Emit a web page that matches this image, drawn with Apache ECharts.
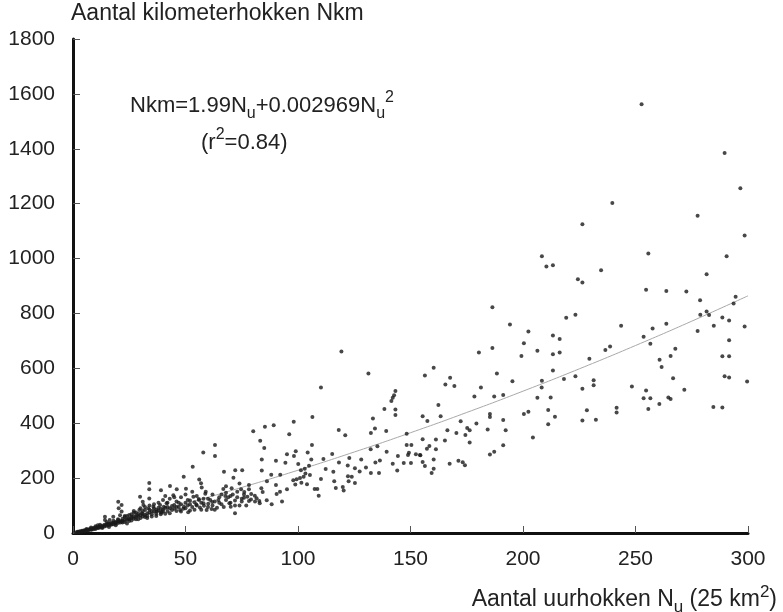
<!DOCTYPE html>
<html>
<head>
<meta charset="utf-8">
<script src="https://cdn.jsdelivr.net/npm/echarts@6/dist/echarts.min.js"></script>
<style>html,body{margin:0;padding:0;background:#fff;}#chart{width:783px;height:612px;}</style>
</head>
<body>
<div id="chart"></div>
<script>
// x ticks / y ticks
const xTicks = [0, 50, 100, 150, 200, 250, 300];
const yTicks = [0, 200, 400, 600, 800, 1000, 1200, 1400, 1600, 1800];

// Scatter points [Nu, Nkm]
const pointsHigh = [[252.7,1562],[289.6,1385],[296.6,1256],[239.7,1202],[277.6,1156],[298.5,1084],[255.7,1018],[290.5,1008],[234.7,957],[281.6,943],[254.7,886],[263.7,882],[272.6,880],[278.7,848],[294.5,861],[293.6,836],[278.8,795],[281.6,807],[282.7,794],[288.6,785],[291.6,774],[277.6,736],[284.8,755],[298.5,752],[243.6,755],[257.6,745],[263.7,762],[253.6,715],[256.6,690],[236.6,667],[238.7,680],[291.6,702],[267.7,671],[265.6,645],[260.7,631],[261.6,605],[288.6,644],[291.6,644],[266.7,564],[289.6,571],[291.6,567],[299.6,552],[248.4,534],[254.7,519],[253.6,491],[256.6,491],[264.6,494],[265.6,488],[271.7,522],[260.6,470],[255.7,452],[284.6,459],[288.6,457],[241.6,456],[241.6,439]];

const pointsUpperMid = [[226.4,1125],[208.4,1008],[210.4,971],[213.3,976],[224.4,925],[226.4,913],[186.4,823],[219.2,784],[223.3,795],[194.2,760],[202.4,734],[213.3,720],[216.3,707],[200.4,691],[186.4,674],[180.4,658],[199.3,645],[206.4,664],[213.3,651],[216.3,658],[229.5,635],[160.3,602],[156.4,574],[167.6,566],[165.5,541],[169.5,536],[181.3,530],[188.4,581],[195.3,553],[213.3,592],[208.4,555],[208.3,530],[218.2,561],[223.3,571],[231.4,557],[231.4,538],[226.4,526],[178.4,497],[187.2,497],[191.2,503],[206.4,493],[212.3,494],[162.4,466],[155.4,425],[163.4,425],[157.5,408],[172.3,407],[179.3,399],[185.3,434],[185.3,423],[191.2,412],[200.4,434],[202.4,442],[211.2,448],[214.2,424],[211.2,396],[226.4,410],[228.4,447],[232.4,413],[166.4,374],[175.2,383],[176.3,374],[184.3,377],[192.3,374],[170.4,364],[174.4,357],[176.3,330],[155.4,342],[161.3,341],[165.3,337],[158.4,317],[157.3,307],[161.3,305],[154.2,284],[160.3,268],[155.4,259],[156.4,244],[160.3,234],[159.4,219],[167.4,252],[171.3,263],[173.2,258],[174.2,247],[185.3,286],[187.2,296],[191.2,320],[204.4,348]];

const pointsMid = [[119.3,661],[131.3,581],[110.2,530],[143.3,517],[142.7,502],[142.1,493],[141.5,481],[138.4,452],[143.3,450],[143.3,430],[133.3,417],[106.4,423],[98.1,405],[89.2,393],[85.3,387],[80.1,371],[96.1,360],[118.1,375],[121.0,356],[132.4,364],[134.2,381],[139.2,372],[83.2,336],[85.0,310],[83.9,268],[83.9,228],[75.2,229],[106.2,321],[90.2,263],[94.4,256],[95.1,287],[98.2,281],[99.0,298],[104.3,293],[100.1,251],[103.0,234],[104.9,245],[105.9,268],[111.3,270],[115.2,288],[118.2,257],[122.1,246],[122.8,273],[125.3,236],[128.1,268],[130.2,239],[132.3,305],[135.3,316],[134.4,257],[136.4,264],[139.4,296],[142.1,252],[144.1,228],[144.4,281],[148.3,362],[148.3,321],[150.4,321],[149.3,292],[148.9,284],[152.4,287],[154.4,283],[147,255],[150.2,255],[78.2,175],[78.2,159],[83.7,163],[84.3,149],[86.2,189],[88.1,212],[92.1,212],[90.2,175],[86.1,119],[88.3,105],[90.5,142],[92.0,150],[92.9,115],[95.1,159],[97.9,192],[98.8,177],[99.4,196],[100.9,200],[101.5,183],[102.5,205],[103.3,217],[101.3,229],[104,178],[105.3,211],[107.4,160],[108.6,160],[109.2,136],[110.2,197],[112.3,233],[115.7,223],[116.1,189],[116.8,164],[119.9,168],[120.3,155],[122.5,189],[122.2,207],[123.9,205],[125.3,182],[127.4,224],[132.4,219],[136,219],[76.1,149],[74.7,159],[77.5,132],[79.1,122],[80.8,136],[81.6,127],[80.9,115],[78.2,117],[82.8,117],[83,108],[79.2,142]];

const pointsLow = [[63.1,321],[63.1,281],[57.9,293],[53.2,241],[49.2,205],[67.1,223],[72.1,229],[71.3,201],[56.1,195],[33.9,182],[33.9,159],[39.1,156],[43.1,171],[46.1,159],[50.2,161],[41,135],[44.6,138],[56.9,181],[57.2,166],[58.8,143],[55.9,124],[53.5,132],[54.8,104],[56.4,93],[58.2,99],[59.4,84],[61.6,87],[60.1,107],[61.9,113],[66.8,160],[68,147],[70.5,163],[67.7,135],[64.6,120],[69.5,108],[70.1,96],[73,130],[72,72],[49.3,96],[51.2,76],[47.6,84],[45,102],[43.1,90],[41.6,108],[40.4,96],[38.7,102],[37.2,78],[39.4,75],[35.7,96],[33.5,90],[32,84],[30.5,72],[31.3,102],[29.5,84],[28.3,65],[27.1,74],[26.1,59],[24.6,53],[23.1,47],[21.6,41],[20.1,47],[18.7,37],[17.2,33],[15.7,35],[14.2,27],[12.7,23],[11.3,19],[9.8,17],[8.3,13],[6.8,11],[5.3,8],[3.9,5],[2.4,4],[20.1,114],[21.6,102],[20.3,90],[21.6,78],[20.9,65],[14.2,59],[14.2,47],[16.3,47],[17.9,59],[29.8,132],[31,114],[33.9,126]];

const pointsDense = [[1,2],[2,3],[2,5],[3,6],[3,4],[4,8],[4,6],[5,10],[5,7],[6,12],[6,9],[7,14],[7,11],[8,16],[8,12],[9,18],[9,14],[10,20],[10,15],[11,22],[11,18],[12,25],[12,20],[13,26],[13,22],[14,30],[14,24],[15,32],[15,26],[16,34],[16,28],[17,36],[17,30],[18,38],[18,32],[19,40],[19,34],[20,42],[20,36],[21,44],[21,38],[22,45],[22,52],[23,40],[23,58],[24,48],[24,62],[25,50],[25,44],[26,55],[26,68],[27,52],[27,60],[28,58],[28,75],[29,62],[29,50],[30,65],[30,55],[31,70],[31,80],[32,66],[32,58],[33,72],[33,62],[34,75],[34,85],[35,68],[35,80],[36,78],[36,90],[37,70],[37,85],[38,82],[38,92],[39,75],[39,88],[40,85],[40,78],[41,92],[42,80],[42,95],[43,72],[44,98],[45,88],[46,80],[46,115],[47,95],[48,105],[48,78],[50,110],[50,90],[51,100],[52,118],[52,82],[53,95],[54,112],[55,100],[56,120],[57,85],[58,108],[60,95],[60,125],[62,100],[63,115],[64,92],[65,130],[66,105],[68,120],[70,110],[70,135],[72,118],[74,100],[75,125],[76,140],
  [6,15],[8,20],[10,25],[11,28],[12,30],[13,18],[15,40],[16,22],[18,45],[19,28],[20,50],[22,38],[23,62],[24,35],[25,66],[26,46],[27,80],[28,50],[29,70],[30,90],[31,60],[32,95],[33,55],[34,100],[35,60],[36,105],[37,62],[38,110],[39,68],[40,120],[41,70],[42,110],[43,125],[44,84],[45,130],[46,95],[47,110],[48,130],[49,88],[50,140],[51,120],[52,105],[53,150],[54,85],[55,135],[57,110],[58,125],[59,150],[61,120],[62,140],[63,85],[65,110],[66,140],[67,95],[68,170],[69,130],[71,140],[72,100],[73,150],[74,180],[75,115],[76,128],[77,100]];

// Fitted curve Nkm = 1.99 Nu + 0.002969 Nu^2 (values at the listed Nu)
const fitNu  = [0, 25, 50, 75, 100, 125, 150, 175, 200, 225, 250, 275, 300];
const fitNkm = [0, 51.6, 106.9, 166.0, 228.7, 295.1, 365.3, 439.2, 516.8, 598.1, 683.1, 771.8, 864.2];

const allPoints = pointsDense.concat(pointsLow, pointsMid, pointsUpperMid, pointsHigh);
const fitLine = fitNu.map((x, i) => [x, fitNkm[i]]);

const FONT = '"Liberation Sans", Arial, Helvetica, sans-serif';
const TXT = '#222';

const chart = echarts.init(document.getElementById('chart'));
chart.setOption({
  animation: false,
  backgroundColor: '#fff',
  grid: { left: 73, right: 35, top: 39, bottom: 79 },
  xAxis: {
    type: 'value', min: xTicks[0], max: xTicks[xTicks.length - 1], interval: 50,
    axisLine: { show: true, onZero: false, lineStyle: { color: '#111', width: 3 } },
    axisTick: { show: true, inside: true, length: 7, lineStyle: { color: '#555', width: 1 } },
    axisLabel: { color: TXT, fontSize: 21, fontFamily: FONT, margin: 16, formatter: v => String(v) },
    splitLine: { show: false }
  },
  yAxis: {
    type: 'value', min: yTicks[0], max: yTicks[yTicks.length - 1], interval: 200,
    axisLine: { show: true, onZero: false, lineStyle: { color: '#111', width: 3 } },
    axisTick: { show: true, inside: true, length: 7, lineStyle: { color: '#555', width: 1 } },
    axisLabel: { color: TXT, fontSize: 21, fontFamily: FONT, margin: 18, padding: [7, 0, 0, 0], formatter: v => String(v) },
    splitLine: { show: false }
  },
  series: [
    {
      type: 'line', data: fitLine, smooth: true, showSymbol: false,
      lineStyle: { color: '#a8a8a8', width: 1 }, z: 1, silent: true
    },
    {
      type: 'scatter', data: allPoints, symbol: 'circle', symbolSize: 4,
      itemStyle: { color: '#1a1a1a' }, z: 2
    }
  ],
  graphic: [
    {
      type: 'text', left: 71, top: 2,
      style: { text: 'Aantal kilometerhokken Nkm', fill: TXT, font: '23px ' + FONT }
    },
    {
      type: 'text', left: 130, top: 90,
      style: {
        text: '{m|Nkm=1.99N}{s|u}{m|+0.002969N}{s|u}{p|2}',
        rich: {
          m: { fill: TXT, fontSize: 22, fontFamily: FONT, lineHeight: 32, verticalAlign: 'middle' },
          s: { fill: TXT, fontSize: 16, fontFamily: FONT, lineHeight: 16, verticalAlign: 'bottom' },
          p: { fill: TXT, fontSize: 16, fontFamily: FONT, lineHeight: 20, verticalAlign: 'top' }
        }
      }
    },
    {
      type: 'text', left: 201, top: 127,
      style: {
        text: '{m|(r}{p|2}{m|=0.84)}',
        rich: {
          m: { fill: TXT, fontSize: 22, fontFamily: FONT, lineHeight: 32, verticalAlign: 'middle' },
          p: { fill: TXT, fontSize: 16, fontFamily: FONT, lineHeight: 20, verticalAlign: 'top' }
        }
      }
    },
    {
      type: 'text', right: 6, top: 584,
      style: {
        text: '{m|Aantal uurhokken N}{s|u}{m| (25 km}{p|2}{m|)}',
        rich: {
          m: { fill: TXT, fontSize: 23, fontFamily: FONT, lineHeight: 32, verticalAlign: 'middle' },
          s: { fill: TXT, fontSize: 17, fontFamily: FONT, lineHeight: 16, verticalAlign: 'bottom' },
          p: { fill: TXT, fontSize: 17, fontFamily: FONT, lineHeight: 20, verticalAlign: 'top' }
        }
      }
    }
  ]
});
</script>
</body>
</html>
